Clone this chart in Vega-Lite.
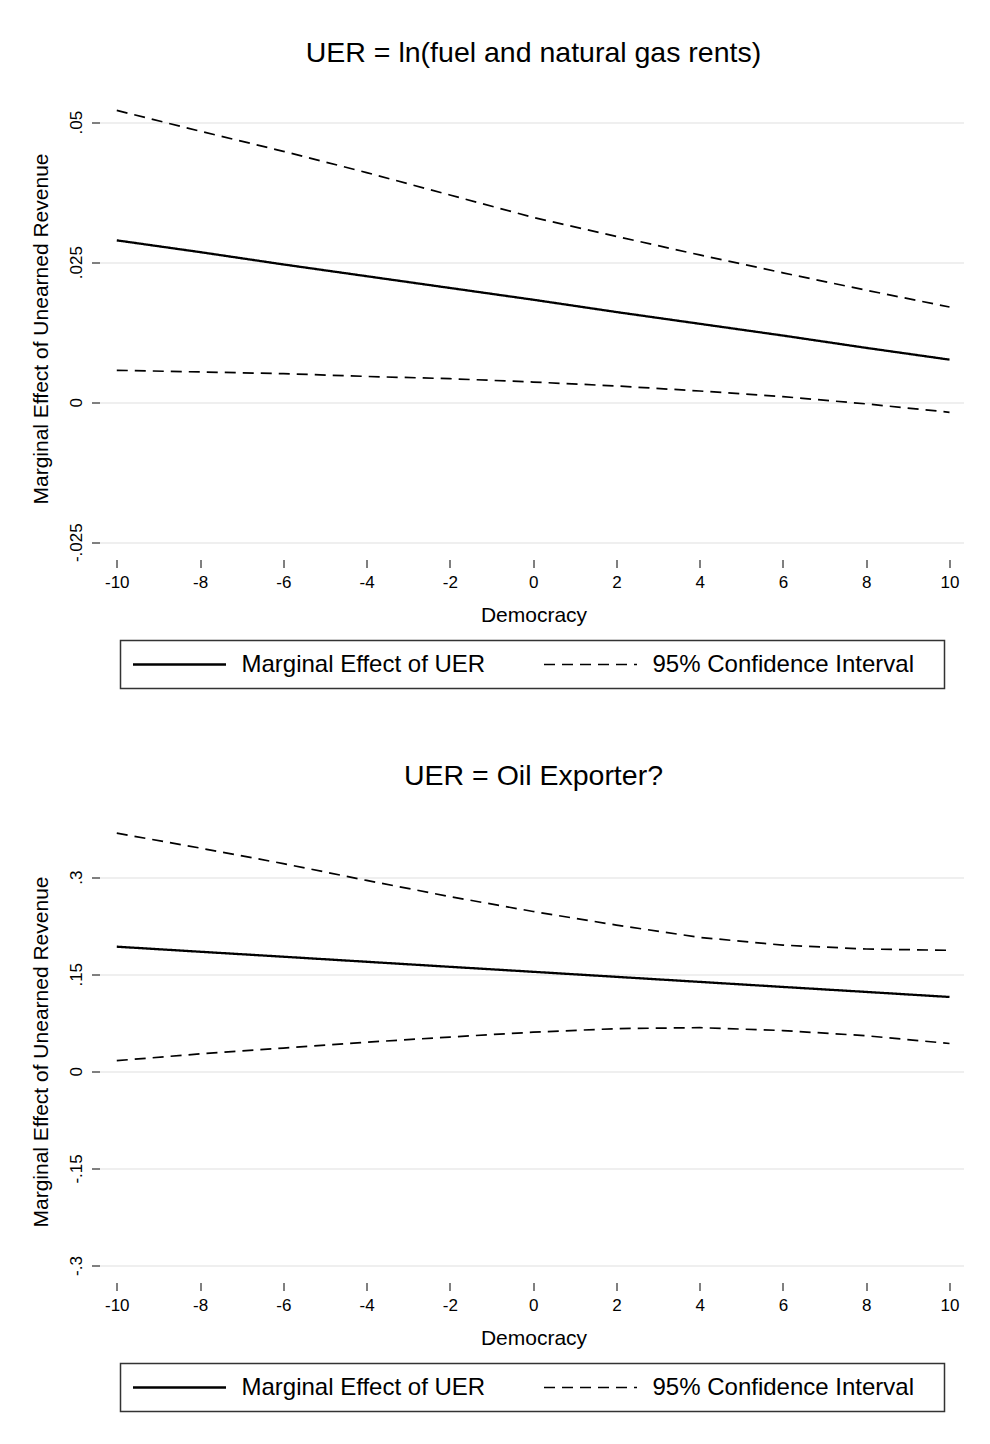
{
  "$schema": "https://vega.github.io/schema/vega-lite/v6.json",
  "background": "white",
  "padding": {"left": 29.5, "top": 38.5, "right": 20, "bottom": 10},
  "spacing": 72,
  "datasets": {
    "p1": [
      {"democracy": -10, "value": 0.0289, "series": "Marginal Effect of UER", "bound": "estimate"},
      {"democracy": -8, "value": 0.0268, "series": "Marginal Effect of UER", "bound": "estimate"},
      {"democracy": -6, "value": 0.0246, "series": "Marginal Effect of UER", "bound": "estimate"},
      {"democracy": -4, "value": 0.0225, "series": "Marginal Effect of UER", "bound": "estimate"},
      {"democracy": -2, "value": 0.0204, "series": "Marginal Effect of UER", "bound": "estimate"},
      {"democracy": 0, "value": 0.0183, "series": "Marginal Effect of UER", "bound": "estimate"},
      {"democracy": 2, "value": 0.0161, "series": "Marginal Effect of UER", "bound": "estimate"},
      {"democracy": 4, "value": 0.0140, "series": "Marginal Effect of UER", "bound": "estimate"},
      {"democracy": 6, "value": 0.0119, "series": "Marginal Effect of UER", "bound": "estimate"},
      {"democracy": 8, "value": 0.0097, "series": "Marginal Effect of UER", "bound": "estimate"},
      {"democracy": 10, "value": 0.0076, "series": "Marginal Effect of UER", "bound": "estimate"},
      {"democracy": -10, "value": 0.0521, "series": "95% Confidence Interval", "bound": "upper"},
      {"democracy": -8, "value": 0.0484, "series": "95% Confidence Interval", "bound": "upper"},
      {"democracy": -6, "value": 0.0448, "series": "95% Confidence Interval", "bound": "upper"},
      {"democracy": -4, "value": 0.0410, "series": "95% Confidence Interval", "bound": "upper"},
      {"democracy": -2, "value": 0.0370, "series": "95% Confidence Interval", "bound": "upper"},
      {"democracy": 0, "value": 0.0330, "series": "95% Confidence Interval", "bound": "upper"},
      {"democracy": 2, "value": 0.0296, "series": "95% Confidence Interval", "bound": "upper"},
      {"democracy": 4, "value": 0.0263, "series": "95% Confidence Interval", "bound": "upper"},
      {"democracy": 6, "value": 0.0231, "series": "95% Confidence Interval", "bound": "upper"},
      {"democracy": 8, "value": 0.0200, "series": "95% Confidence Interval", "bound": "upper"},
      {"democracy": 10, "value": 0.0170, "series": "95% Confidence Interval", "bound": "upper"},
      {"democracy": -10, "value": 0.0057, "series": "95% Confidence Interval", "bound": "lower"},
      {"democracy": -8, "value": 0.0054, "series": "95% Confidence Interval", "bound": "lower"},
      {"democracy": -6, "value": 0.0051, "series": "95% Confidence Interval", "bound": "lower"},
      {"democracy": -4, "value": 0.0046, "series": "95% Confidence Interval", "bound": "lower"},
      {"democracy": -2, "value": 0.0042, "series": "95% Confidence Interval", "bound": "lower"},
      {"democracy": 0, "value": 0.0036, "series": "95% Confidence Interval", "bound": "lower"},
      {"democracy": 2, "value": 0.0029, "series": "95% Confidence Interval", "bound": "lower"},
      {"democracy": 4, "value": 0.0020, "series": "95% Confidence Interval", "bound": "lower"},
      {"democracy": 6, "value": 0.0010, "series": "95% Confidence Interval", "bound": "lower"},
      {"democracy": 8, "value": -0.0003, "series": "95% Confidence Interval", "bound": "lower"},
      {"democracy": 10, "value": -0.0018, "series": "95% Confidence Interval", "bound": "lower"}
    ],
    "p2": [
      {"democracy": -10, "value": 0.1926, "series": "Marginal Effect of UER", "bound": "estimate"},
      {"democracy": -8, "value": 0.1848, "series": "Marginal Effect of UER", "bound": "estimate"},
      {"democracy": -6, "value": 0.1771, "series": "Marginal Effect of UER", "bound": "estimate"},
      {"democracy": -4, "value": 0.1693, "series": "Marginal Effect of UER", "bound": "estimate"},
      {"democracy": -2, "value": 0.1615, "series": "Marginal Effect of UER", "bound": "estimate"},
      {"democracy": 0, "value": 0.1538, "series": "Marginal Effect of UER", "bound": "estimate"},
      {"democracy": 2, "value": 0.1460, "series": "Marginal Effect of UER", "bound": "estimate"},
      {"democracy": 4, "value": 0.1382, "series": "Marginal Effect of UER", "bound": "estimate"},
      {"democracy": 6, "value": 0.1304, "series": "Marginal Effect of UER", "bound": "estimate"},
      {"democracy": 8, "value": 0.1227, "series": "Marginal Effect of UER", "bound": "estimate"},
      {"democracy": 10, "value": 0.1149, "series": "Marginal Effect of UER", "bound": "estimate"},
      {"democracy": -10, "value": 0.368, "series": "95% Confidence Interval", "bound": "upper"},
      {"democracy": -8, "value": 0.345, "series": "95% Confidence Interval", "bound": "upper"},
      {"democracy": -6, "value": 0.321, "series": "95% Confidence Interval", "bound": "upper"},
      {"democracy": -4, "value": 0.295, "series": "95% Confidence Interval", "bound": "upper"},
      {"democracy": -2, "value": 0.270, "series": "95% Confidence Interval", "bound": "upper"},
      {"democracy": 0, "value": 0.247, "series": "95% Confidence Interval", "bound": "upper"},
      {"democracy": 2, "value": 0.226, "series": "95% Confidence Interval", "bound": "upper"},
      {"democracy": 4, "value": 0.207, "series": "95% Confidence Interval", "bound": "upper"},
      {"democracy": 6, "value": 0.195, "series": "95% Confidence Interval", "bound": "upper"},
      {"democracy": 8, "value": 0.189, "series": "95% Confidence Interval", "bound": "upper"},
      {"democracy": 10, "value": 0.187, "series": "95% Confidence Interval", "bound": "upper"},
      {"democracy": -10, "value": 0.0165, "series": "95% Confidence Interval", "bound": "lower"},
      {"democracy": -8, "value": 0.027, "series": "95% Confidence Interval", "bound": "lower"},
      {"democracy": -6, "value": 0.036, "series": "95% Confidence Interval", "bound": "lower"},
      {"democracy": -4, "value": 0.045, "series": "95% Confidence Interval", "bound": "lower"},
      {"democracy": -2, "value": 0.053, "series": "95% Confidence Interval", "bound": "lower"},
      {"democracy": 0, "value": 0.0605, "series": "95% Confidence Interval", "bound": "lower"},
      {"democracy": 2, "value": 0.066, "series": "95% Confidence Interval", "bound": "lower"},
      {"democracy": 4, "value": 0.0675, "series": "95% Confidence Interval", "bound": "lower"},
      {"democracy": 6, "value": 0.063, "series": "95% Confidence Interval", "bound": "lower"},
      {"democracy": 8, "value": 0.055, "series": "95% Confidence Interval", "bound": "lower"},
      {"democracy": 10, "value": 0.043, "series": "95% Confidence Interval", "bound": "lower"}
    ]
  },
  "vconcat": [
    {
      "title": "UER = ln(fuel and natural gas rents)",
      "width": 864,
      "height": 458,
      "data": {"name": "p1"},
      "mark": {"type": "line", "color": "black"},
      "encoding": {
        "x": {"field": "democracy", "type": "quantitative", "title": "Democracy",
              "scale": {"domain": [-10.367, 10.384], "nice": false, "zero": false},
              "axis": {"values": [-10, -8, -6, -4, -2, 0, 2, 4, 6, 8, 10], "labelExpr": "toString(datum.value)"}},
        "y": {"field": "value", "type": "quantitative", "title": "Marginal Effect of Unearned Revenue",
              "scale": {"domain": [-0.02773, 0.05405], "nice": false, "zero": false},
              "axis": {"values": [-0.025, 0, 0.025, 0.05], "labelExpr": "datum.value == 0 ? '0' : replace(toString(datum.value), '0.', '.')"}},
        "strokeDash": {"field": "series", "type": "nominal",
              "scale": {"domain": ["Marginal Effect of UER", "95% Confidence Interval"], "range": [[1, 0], [11, 7]]},
              "legend": {"labelExpr": "datum.label == '95% Confidence Interval' ? datum.label + '\u2800' : datum.label"}},
        "strokeWidth": {"field": "series", "type": "nominal",
              "scale": {"domain": ["Marginal Effect of UER", "95% Confidence Interval"], "range": [2.3, 1.7]},
              "legend": null},
        "detail": {"field": "bound", "type": "nominal"}
      }
    },
    {
      "title": "UER = Oil Exporter?",
      "width": 864,
      "height": 458,
      "data": {"name": "p2"},
      "mark": {"type": "line", "color": "black"},
      "encoding": {
        "x": {"field": "democracy", "type": "quantitative", "title": "Democracy",
              "scale": {"domain": [-10.367, 10.384], "nice": false, "zero": false},
              "axis": {"values": [-10, -8, -6, -4, -2, 0, 2, 4, 6, 8, 10], "labelExpr": "toString(datum.value)"}},
        "y": {"field": "value", "type": "quantitative", "title": "Marginal Effect of Unearned Revenue",
              "scale": {"domain": [-0.3232, 0.3845], "nice": false, "zero": false},
              "axis": {"values": [-0.3, -0.15, 0, 0.15, 0.3], "labelExpr": "datum.value == 0 ? '0' : replace(toString(datum.value), '0.', '.')"}},
        "strokeDash": {"field": "series", "type": "nominal",
              "scale": {"domain": ["Marginal Effect of UER", "95% Confidence Interval"], "range": [[1, 0], [11, 7]]},
              "legend": {"labelExpr": "datum.label == '95% Confidence Interval' ? datum.label + '\u2800' : datum.label"}},
        "strokeWidth": {"field": "series", "type": "nominal",
              "scale": {"domain": ["Marginal Effect of UER", "95% Confidence Interval"], "range": [2.3, 1.7]},
              "legend": null},
        "detail": {"field": "bound", "type": "nominal"}
      }
    }
  ],
  "resolve": {
    "scale": {"strokeDash": "independent", "strokeWidth": "independent"},
    "legend": {"strokeDash": "independent"}
  },
  "config": {
    "font": "Liberation Sans",
    "view": {"stroke": null},
    "title": {"fontSize": 28.5, "fontWeight": "normal", "color": "black", "font": "Liberation Sans", "anchor": "middle", "frame": "group", "offset": 32},
    "axis": {
      "domain": false,
      "tickColor": "black",
      "tickSize": 8,
      "tickWidth": 1,
      "offset": 2,
      "labelFont": "Liberation Sans",
      "labelFontSize": 17,
      "labelColor": "black",
      "titleFont": "Liberation Sans",
      "titleFontSize": 21,
      "titleFontWeight": "normal",
      "titleColor": "black",
      "gridColor": "#eaeaea",
      "gridWidth": 1.5
    },
    "axisX": {"grid": false, "labelPadding": 7, "titlePadding": 14},
    "axisY": {"grid": true, "labelAngle": 270, "labelAlign": "center", "labelBaseline": "alphabetic", "labelPadding": 10, "titlePadding": 16},
    "legend": {
      "orient": "none",
      "legendX": 19,
      "legendY": 541,
      "direction": "horizontal",
      "columns": 2,
      "title": null,
      "symbolType": "M-9.3,0H9.3",
      "symbolSize": 100,
      "symbolStrokeWidth": 2,
      "symbolStrokeColor": "black",
      "symbolFillColor": "transparent",
      "symbolOffset": 35,
      "labelOffset": 50,
      "labelFont": "Liberation Sans",
      "labelFontSize": 24,
      "labelColor": "black",
      "labelLimit": 600,
      "columnPadding": 55,
      "padding": 12,
      "strokeColor": "#333333",
      "strokeWidth": 1.5,
      "fillColor": "white"
    }
  }
}
